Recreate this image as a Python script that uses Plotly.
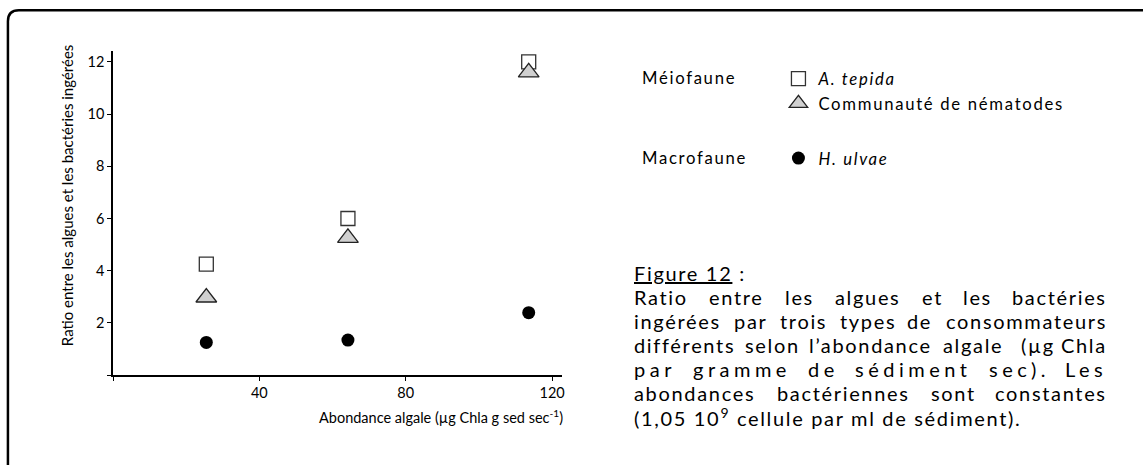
import plotly.graph_objects as go

# ---------------- data ----------------
abondance = [25.5, 64.2, 113.6]
ratio_tepida = [4.25, 6.0, 12.0]
ratio_nematodes = [2.97, 5.26, 11.6]
ratio_ulvae = [1.25, 1.34, 2.39]

x_ticks = [40, 80, 120]
x_tick_labels = ["40", "80", "120"]
y_ticks = [2, 4, 6, 8, 10, 12]
y_tick_labels = ["2", "4", "6", "8", "10", "12"]
axis_origin = [0]

names = ["<i>A. tepida</i>", "Communauté de nématodes", "<i>H. ulvae</i>"]
groups = ["Méiofaune", "Macrofaune"]

caption_title = "<u>Figure 12</u> :"
caption_lines = [
    "Ratio entre les algues et les bactéries",
    "ingérées par trois types de consommateurs",
    "différents selon l’abondance algale  (µg Chla",
    "par gramme de sédiment sec). Les",
    "abondances bactériennes sont constantes",
]
caption_last = "(1,05 10<sup>9</sup> cellule par ml de sédiment)."

x_title = "Abondance algale (µg Chla g sed sec<sup>-1</sup>)"
y_title = "Ratio entre les algues et les bactéries ingérées"

# ---------------- layout helpers ----------------
W, H = 1143, 465
L, R, T, B = 113, 561.7, 50.7, 375
FONT = "Lato, 'Open Sans', sans-serif"


def px(x):
    return (x - L) / (R - L)


def py(y):
    return (B - y) / (B - T)


CW = {
    'a': .51, 'b': .56, 'c': .46, 'd': .56, 'e': .53, 'f': .33, 'g': .51, 'h': .56,
    'i': .24, 'j': .24, 'k': .50, 'l': .24, 'm': .84, 'n': .56, 'o': .56, 'p': .56,
    'q': .56, 'r': .37, 's': .42, 't': .35, 'u': .56, 'v': .50, 'w': .76, 'x': .49,
    'y': .50, 'z': .45, 'é': .53, 'R': .60, 'C': .66, 'L': .48, 'µ': .56, '(': .30,
    ')': .30, '.': .22, ',': .22, '’': .22, ' ': .19,
}

CAP_SIZE = 20
CAP_LS = 1.67       # letter spacing (px) emulating the wide original face
SPACED_LS = 4.5     # letter spacing of the stretched 4th line
LEG_SIZE = 16.7
LEG_LS = 1.7
AX_SIZE = 14.5
X0, X1 = 633, 1107


def cw(c):
    return CW.get(c, .55) * 1.02


def wwidth(w, size, ls):
    return sum(cw(c) for c in w) * size + len(w) * ls


def spaced(text, ls):
    return f'<span style="letter-spacing:{ls}px">{text}</span>'


def txt(text, x, y, xanchor="left", size=CAP_SIZE, **kw):
    d = dict(text=text, xref="paper", yref="paper", x=px(x), y=py(y),
             xanchor=xanchor, yanchor="middle", showarrow=False, borderpad=0,
             font=dict(size=size, color="black", family=FONT))
    d.update(kw)
    return d


fig = go.Figure()

fig.add_trace(go.Scatter(
    x=abondance, y=ratio_tepida, mode="markers", name=spaced(names[0], LEG_LS),
    legendgroup="meio",
    marker=dict(symbol="square", size=14, color="white",
                line=dict(color="#333333", width=1.3)),
))
fig.add_trace(go.Scatter(
    x=abondance, y=ratio_nematodes, mode="markers", name=spaced(names[1], LEG_LS),
    legendgroup="meio",
    marker=dict(symbol="triangle-up", size=18, color="#d0d0d0",
                line=dict(color="#222222", width=1.3)),
))
fig.add_trace(go.Scatter(
    x=abondance, y=ratio_ulvae, mode="markers", name=spaced(names[2], LEG_LS),
    legendgroup="macro",
    marker=dict(symbol="circle", size=13, color="black",
                line=dict(color="black", width=0)),
))

annotations = []

# axis titles
annotations.append(txt(x_title, 564, 417, xanchor="right", size=AX_SIZE))
annotations.append(txt(y_title, 67, 195, xanchor="center", size=15, textangle=-90))

# legend group labels
annotations.append(txt(spaced(groups[0], LEG_LS), 641, 78, size=LEG_SIZE))
annotations.append(txt(spaced(groups[1], LEG_LS), 641, 158, size=LEG_SIZE))

# caption (justified: words placed individually)
annotations.append(txt(spaced(caption_title, CAP_LS), X0, 273))

line_y = [297, 321, 345, 369, 393]
for li, line in enumerate(caption_lines):
    yy = line_y[li]
    ls = SPACED_LS if li == 3 else CAP_LS
    parts = line.split(" ")
    words = [w for w in parts if w]
    # gap units: an empty part means a doubled space before the next word
    units = []
    u = 0
    for p in parts[1:]:
        u += 1
        if p:
            units.append(u)
            u = 0
    widths = [wwidth(w, CAP_SIZE, ls) for w in words]
    gap = (X1 - X0 - sum(widths)) / sum(units)
    xc = X0
    for wi, w in enumerate(words):
        if wi == len(words) - 1:
            annotations.append(txt(spaced(w, ls), X1, yy, xanchor="right"))
        else:
            annotations.append(txt(spaced(w, ls), xc, yy))
            xc += widths[wi] + gap * units[wi]

annotations.append(txt(spaced(caption_last, CAP_LS), X0, 417))

# rounded frame (top-left corner visible)
frame_path = (f"M {px(8)},{py(480)} L {px(8)},{py(21)} "
              f"Q {px(8)},{py(10)} {px(19)},{py(10)} L {px(1160)},{py(10)}")

axis_common = dict(
    showline=True, linecolor="black", linewidth=1.5,
    ticks="outside", ticklen=4, tickwidth=1, tickcolor="black",
    showgrid=False, zeroline=False, fixedrange=True,
    tickfont=dict(size=AX_SIZE, color="black", family=FONT),
)

fig.update_layout(
    width=W, height=H,
    margin=dict(l=L, r=W - R, t=T, b=H - B, pad=0),
    paper_bgcolor="white", plot_bgcolor="white",
    font=dict(family=FONT, color="black"),
    showlegend=True,
    legend=dict(
        x=px(778), y=py(61), xanchor="left", yanchor="top",
        traceorder="grouped", tracegroupgap=30,
        font=dict(size=LEG_SIZE, color="black", family=FONT),
        bgcolor="rgba(0,0,0,0)", borderwidth=0,
    ),
    xaxis=dict(range=[0, 122.7], tickvals=x_ticks, ticktext=x_tick_labels,
               minor=dict(tickvals=axis_origin, ticks="outside", ticklen=4,
                          tickwidth=1, tickcolor="black", showgrid=False),
               **axis_common),
    yaxis=dict(range=[0, 12.42], tickvals=y_ticks, ticktext=y_tick_labels,
               minor=dict(tickvals=axis_origin, ticks="outside", ticklen=4,
                          tickwidth=1, tickcolor="black", showgrid=False),
               **axis_common),
    annotations=annotations,
    shapes=[dict(type="path", xref="paper", yref="paper", path=frame_path,
                 line=dict(color="black", width=2.5))],
)

fig.write_html("out.html", config={"displayModeBar": False})
